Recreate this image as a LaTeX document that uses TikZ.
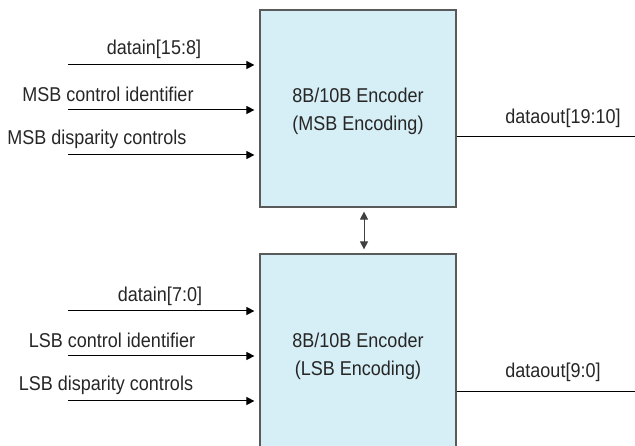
\documentclass[tikz,border=0pt]{standalone}
\usepackage{fontspec}
\setmainfont{Liberation Sans}[FakeStretch=0.9]
\usetikzlibrary{arrows.meta}
\definecolor{boxfill}{HTML}{D6EEF5}
\definecolor{boxline}{HTML}{5A5A5A}
\tikzset{
  enc/.style={draw=boxline, line width=1.2pt, fill=boxfill, minimum width=196pt, inner sep=0pt, align=center},
  lbl/.style={inner sep=0pt, text=black!85, font=\fontsize{20}{24}\selectfont},
  sig/.style={line width=1pt, -{Triangle[length=8pt,width=8pt]}},
  bidir/.style={line width=1pt, {Triangle[length=8pt,width=8pt]}-{Triangle[length=8pt,width=8pt]}, draw=black!75}
}
\begin{document}
\begin{tikzpicture}[x=1pt,y=-1pt]
\useasboundingbox (0,0) rectangle (635,446);
\clip (0,0) rectangle (635,446);
% encoder blocks
\node[enc, minimum height=197pt] (msb) at (358,108.5) {};
\node[enc, minimum height=220pt] (lsb) at (358,364) {};
\node[lbl, align=center, font=\fontsize{20}{28}\selectfont] (msbt) at (358,111) {8B/10B Encoder\\(MSB Encoding)};
\node[lbl, align=center, font=\fontsize{20}{28}\selectfont] (lsbt) at (358,356) {8B/10B Encoder\\(LSB Encoding)};
% input start coordinates
\coordinate (s1) at (68,65);
\coordinate (s2) at (68,110);
\coordinate (s3) at (68,155);
\coordinate (s4) at (68,311);
\coordinate (s5) at (68,356);
\coordinate (s6) at (68,401);
\coordinate (o1) at (643,137);
\coordinate (o2) at (643,392);
% inputs
\draw[sig] (s1) -- ([xshift=-5pt]msb.west |- s1);
\draw[sig] (s2) -- ([xshift=-5pt]msb.west |- s2);
\draw[sig] (s3) -- ([xshift=-5pt]msb.west |- s3);
\draw[sig] (s4) -- ([xshift=-5pt]lsb.west |- s4);
\draw[sig] (s5) -- ([xshift=-5pt]lsb.west |- s5);
\draw[sig] (s6) -- ([xshift=-5pt]lsb.west |- s6);
% outputs
\draw[sig] (msb.east |- o1) -- (o1);
\draw[sig] (lsb.east |- o2) -- (o2);
% link
\draw[bidir] ([xshift=6pt,yshift=-4pt]msb.south) -- ([xshift=6pt,yshift=4pt]lsb.north);
% labels
\node[lbl] (l1) at (154,49) {datain[15:8]};
\node[lbl] (l2) at (108,94) {MSB control identifier};
\node[lbl] (l3) at (97,139) {MSB disparity controls};
\node[lbl] (l4) at (160,296) {datain[7:0]};
\node[lbl] (l5) at (112,340) {LSB control identifier};
\node[lbl] (l6) at (106,385) {LSB disparity controls};
\node[lbl] (l7) at (563,118) {dataout[19:10]};
\node[lbl] (l8) at (553,372) {dataout[9:0]};
\end{tikzpicture}
\end{document}
